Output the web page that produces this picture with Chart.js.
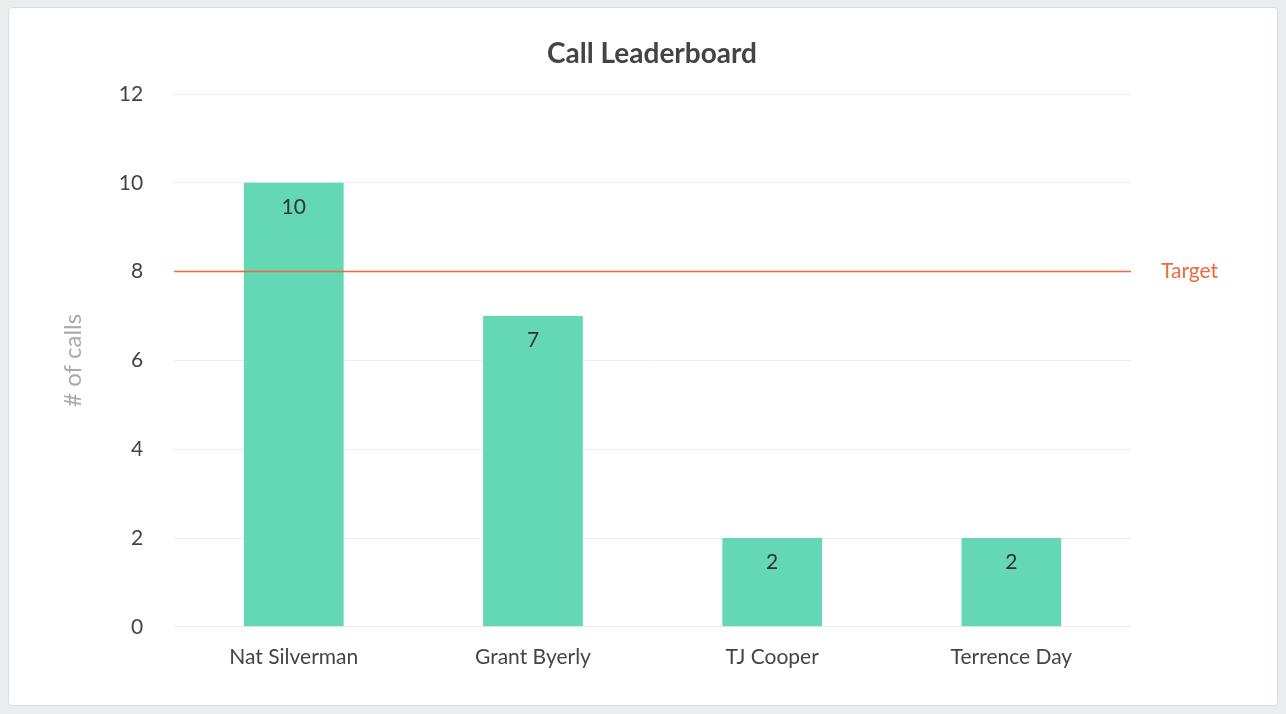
<!DOCTYPE html>
<html>
<head>
<meta charset="utf-8">
<script src="https://cdn.jsdelivr.net/npm/chart.js@4"></script>
<style>
  html, body { margin: 0; padding: 0; background: #e9edf0; }
  .card { position: absolute; left: 8px; top: 7px; width: 1268px; height: 697px; background: #fff;
          border: 1px solid #d9dee2; border-radius: 4px; }
  canvas { display: block; }
</style>
</head>
<body>
<div class="card"><canvas id="LeaderChart" width="1268" height="697"></canvas></div>
<script>
const reps = ['Nat Silverman', 'Grant Byerly', 'TJ Cooper', 'Terrence Day'];
const calls = [10, 7, 2, 2];
const target = 8;
const chartTitle = 'Call Leaderboard';

Chart.defaults.font.family = 'Lato, "Open Sans", sans-serif';

const extras = {
    id: 'extras',
    afterDatasetsDraw(chart) {
        const ctx = chart.ctx;
        const y = chart.scales.y;
        const area = chart.chartArea;
        const ty = y.getPixelForValue(target);
        ctx.save();
        // title, centred on the card
        ctx.fillStyle = '#444';
        ctx.font = 'bold 28px Lato, sans-serif';
        ctx.textAlign = 'center';
        ctx.textBaseline = 'middle';
        ctx.fillText(chartTitle, chart.width / 2 + 9, 46);

        ctx.strokeStyle = '#ec6a3b';
        ctx.lineWidth = 1.5;
        ctx.beginPath();
        ctx.moveTo(area.left, ty);
        ctx.lineTo(area.right, ty);
        ctx.stroke();
        ctx.fillStyle = '#ec6a3b';
        ctx.font = '21px Lato, sans-serif';
        ctx.textAlign = 'left';
        ctx.fillText('Target', area.right + 30, ty);

        ctx.fillStyle = '#333';
        ctx.font = '21px Lato, sans-serif';
        ctx.textAlign = 'center';
        ctx.textBaseline = 'top';
        chart.getDatasetMeta(0).data.forEach((bar, i) => {
            ctx.fillText(String(calls[i]), bar.x, bar.y + 14);
        });
        ctx.restore();
    }
};

new Chart(document.getElementById('LeaderChart'), {
    type: 'bar',
    data: {
        labels: reps,
        datasets: [{
            data: calls,
            backgroundColor: '#64d7b5',
            barPercentage: 0.417,
            categoryPercentage: 1
        }]
    },
    options: {
        responsive: false,
        animation: false,
        layout: { padding: { left: 50, right: 146, top: 86, bottom: 25 } },
        plugins: {
            legend: { display: false },
            tooltip: { enabled: false },
            title: { display: false }
        },
        scales: {
            x: {
                grid: { display: false },
                border: { display: false },
                ticks: { color: '#444', font: { size: 21 }, padding: 10 }
            },
            y: {
                min: 0, max: 12,
                ticks: { stepSize: 2, color: '#444', font: { size: 21 }, padding: 31 },
                grid: { color: '#ececec', drawTicks: false },
                border: { display: false },
                title: { display: true, text: '# of calls', color: '#aaa', font: { size: 24 }, padding: 0 }
            }
        }
    },
    plugins: [extras]
});
</script>
</body>
</html>
